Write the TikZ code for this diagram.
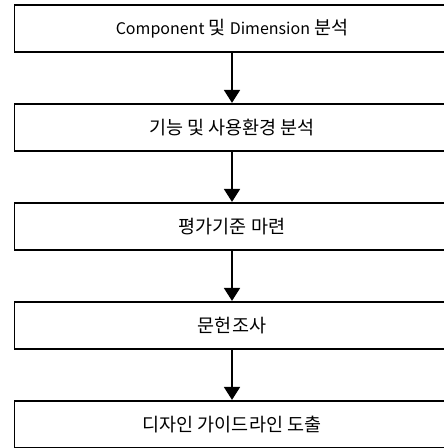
\documentclass[tikz,border=0pt]{standalone}
\usepackage{fontspec}
\setmainfont{Noto Sans CJK KR}
\usetikzlibrary{arrows.meta}
\newcommand{\latw}[1]{{\fontsize{16}{18}\selectfont #1}}
\begin{document}
\begin{tikzpicture}[x=1pt,y=1pt,
  stepbox/.style={draw=black,line width=1.7pt,minimum width=435pt,minimum height=47.5pt,inner sep=0pt,font=\fontsize{18.5}{20}\selectfont},
  flow/.style={line width=1.9pt,-{Triangle[length=13pt,width=16pt]}}]
\fill[white] (0,0) rectangle (444,448);
\useasboundingbox (0,0) rectangle (444,448);
\node[stepbox] (b1) at (232,419.5) {\latw{Component} 및 \latw{Dimension} 분석};
\node[stepbox] (b2) at (232,320.5) {기능 및 사용환경 분석};
\node[stepbox] (b3) at (232,221.5) {평가기준 마련};
\node[stepbox] (b4) at (232,122.5) {문헌조사};
\node[stepbox] (b5) at (232,23.5) {디자인 가이드라인 도출};
\draw[flow] (b1.south) -- (b2.north);
\draw[flow] (b2.south) -- (b3.north);
\draw[flow] (b3.south) -- (b4.north);
\draw[flow] (b4.south) -- (b5.north);
\end{tikzpicture}
\end{document}
